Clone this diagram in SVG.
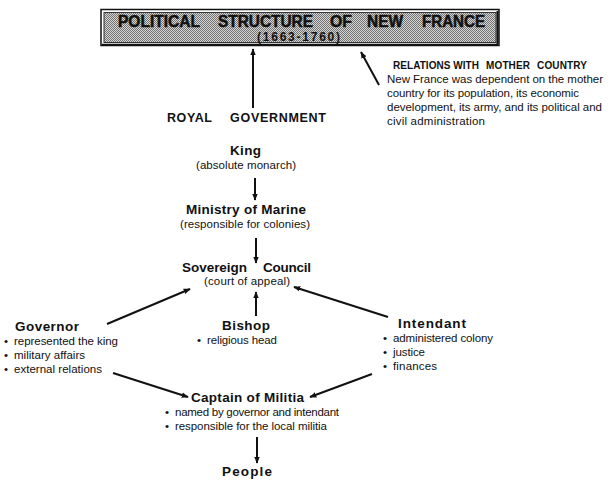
<svg xmlns="http://www.w3.org/2000/svg" width="613" height="480" viewBox="0 0 613 480">
<defs>
<pattern id="dots" width="2" height="2" patternUnits="userSpaceOnUse">
<rect width="2" height="2" fill="#d6d6d6"/>
<rect width="1" height="1" fill="#727272"/>
<rect x="1" y="1" width="1" height="1" fill="#727272"/>
</pattern>
<marker id="ah" viewBox="0 0 10 10" refX="9" refY="5" markerWidth="7" markerHeight="7" orient="auto" markerUnits="userSpaceOnUse">
<path d="M0,1 L10,5 L0,9 Z" fill="#111"/>
</marker>
</defs>
<style>
text{font-family:"Liberation Sans",Arial,sans-serif;fill:#111}
.h{font-weight:bold;font-size:13.5px}
.s{font-size:11.5px}
.t{font-weight:bold;font-size:16px;stroke:#111;stroke-width:0.5}
.r{font-weight:bold;font-size:10px}
.c line{stroke:#111;stroke-width:2;marker-end:url(#ah)}
</style>
<rect width="613" height="480" fill="#fff"/>
<g id="title">
<rect x="101" y="9.5" width="398" height="36" fill="#fff" stroke="#111" stroke-width="1.5"/>
<rect x="104" y="12.5" width="392" height="30" fill="url(#dots)" stroke="#333" stroke-width="1"/>
<line x1="497.5" y1="11" x2="497.5" y2="44" stroke="#111" stroke-width="2"/>
<line x1="102" y1="44.5" x2="498" y2="44.5" stroke="#111" stroke-width="1.5"/>
<text class="t" x="118" y="27" textLength="82" lengthAdjust="spacingAndGlyphs">POLITICAL</text>
<text class="t" x="218" y="27" textLength="95" lengthAdjust="spacingAndGlyphs">STRUCTURE</text>
<text class="t" x="330" y="27" textLength="22" lengthAdjust="spacingAndGlyphs">OF</text>
<text class="t" x="367" y="27" textLength="36" lengthAdjust="spacingAndGlyphs">NEW</text>
<text class="t" x="422" y="27" textLength="63" lengthAdjust="spacingAndGlyphs">FRANCE</text>
<text x="257" y="41" font-size="12" font-weight="bold" textLength="83" lengthAdjust="spacing">(1663-1760)</text>
</g>
<g id="relations">
<text class="r" x="393" y="69" textLength="86" lengthAdjust="spacing">RELATIONS WITH</text>
<text class="r" x="486" y="69" textLength="44" lengthAdjust="spacing">MOTHER</text>
<text class="r" x="537" y="69" textLength="50" lengthAdjust="spacing">COUNTRY</text>
<text class="s" x="387" y="83" textLength="216" lengthAdjust="spacing">New France was dependent on the mother</text>
<text class="s" x="387" y="97" textLength="192" lengthAdjust="spacing">country for its population, its economic</text>
<text class="s" x="387" y="111" textLength="215" lengthAdjust="spacing">development, its army, and its political and</text>
<text class="s" x="387" y="125" textLength="98" lengthAdjust="spacing">civil administration</text>
</g>
<g id="royal">
<text x="167" y="122" font-size="12.5" font-weight="bold" textLength="45" lengthAdjust="spacing">ROYAL</text>
<text x="230" y="122" font-size="12.5" font-weight="bold" textLength="96" lengthAdjust="spacing">GOVERNMENT</text>
</g>
<g id="king">
<text class="h" x="230" y="155" textLength="31" lengthAdjust="spacing">King</text>
<text class="s" x="196" y="169" textLength="100" lengthAdjust="spacing">(absolute monarch)</text>
</g>
<g id="ministry">
<text class="h" x="186" y="214" textLength="120" lengthAdjust="spacing">Ministry of Marine</text>
<text class="s" x="180" y="228" textLength="130" lengthAdjust="spacing">(responsible for colonies)</text>
</g>
<g id="council">
<text class="h" x="182" y="272" textLength="65" lengthAdjust="spacing">Sovereign</text>
<text class="h" x="263" y="272" textLength="48" lengthAdjust="spacing">Council</text>
<text class="s" x="204" y="285" textLength="86" lengthAdjust="spacing">(court of appeal)</text>
</g>
<g id="governor">
<text class="h" x="15" y="331" textLength="64" lengthAdjust="spacing">Governor</text>
<text class="s" x="4" y="345">•</text><text class="s" x="14" y="345" textLength="104" lengthAdjust="spacing">represented the king</text>
<text class="s" x="4" y="359">•</text><text class="s" x="14" y="359" textLength="71" lengthAdjust="spacing">military affairs</text>
<text class="s" x="4" y="373">•</text><text class="s" x="14" y="373" textLength="88" lengthAdjust="spacing">external relations</text>
</g>
<g id="bishop">
<text class="h" x="222" y="330" textLength="48" lengthAdjust="spacing">Bishop</text>
<text class="s" x="197" y="344">•</text><text class="s" x="207" y="344" textLength="70" lengthAdjust="spacing">religious head</text>
</g>
<g id="intendant">
<text class="h" x="398" y="328" textLength="68" lengthAdjust="spacing">Intendant</text>
<text class="s" x="383" y="342">•</text><text class="s" x="393" y="342" textLength="100" lengthAdjust="spacing">administered colony</text>
<text class="s" x="383" y="356">•</text><text class="s" x="393" y="356" textLength="32" lengthAdjust="spacing">justice</text>
<text class="s" x="383" y="370">•</text><text class="s" x="393" y="370" textLength="44" lengthAdjust="spacing">finances</text>
</g>
<g id="captain">
<text class="h" x="191" y="402" textLength="113" lengthAdjust="spacing">Captain of Militia</text>
<text class="s" x="165" y="416">•</text><text class="s" x="175" y="416" textLength="164" lengthAdjust="spacing">named by governor and intendant</text>
<text class="s" x="165" y="430">•</text><text class="s" x="175" y="430" textLength="152" lengthAdjust="spacing">responsible for the local militia</text>
</g>
<g id="people">
<text class="h" x="222" y="476" textLength="50" lengthAdjust="spacing">People</text>
</g>
<g id="connectors" class="c">
<line x1="253" y1="108" x2="253" y2="49"/>
<line x1="379" y1="85" x2="361" y2="52"/>
<line x1="255" y1="178" x2="255" y2="200"/>
<line x1="256" y1="238" x2="256" y2="263"/>
<line x1="256" y1="316" x2="256" y2="292"/>
<line x1="107" y1="324" x2="190" y2="289"/>
<line x1="388" y1="317" x2="294" y2="287"/>
<line x1="113" y1="373" x2="188" y2="397"/>
<line x1="372" y1="374" x2="310" y2="397"/>
<line x1="257" y1="437" x2="257" y2="463"/>
</g>
</svg>
